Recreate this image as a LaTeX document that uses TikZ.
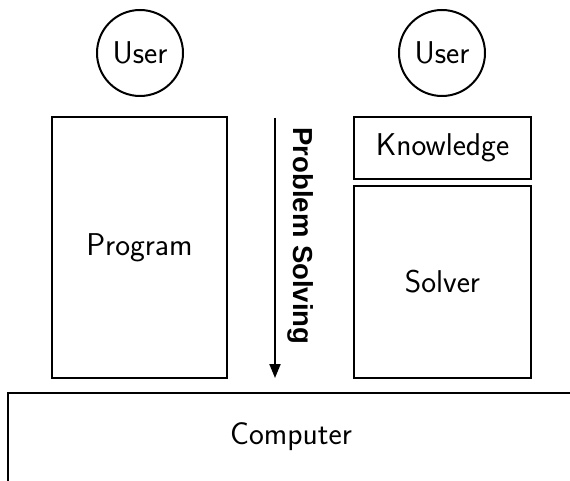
\documentclass[tikz,border=0pt]{standalone}
\usepackage{fontspec}
\newfontfamily\headfont{Liberation Sans}
\usetikzlibrary{arrows.meta}
\tikzset{
  x=1pt, y=-1pt,
  every node/.style={font=\sffamily\fontsize{31.5}{35}\selectfont, inner sep=0pt},
  userbox/.style={draw, circle, line width=2pt, minimum size=86pt},
  partbox/.style={draw, rectangle, line width=2pt},
  flow/.style={line width=2pt, -{Triangle[length=14pt,width=11pt]}},
}
\begin{document}
\begin{tikzpicture}
  \useasboundingbox (0,0) rectangle (570,481);
  \clip (0,0) rectangle (570,481);
  % users
  \node[userbox] (user1) at (140,53) {User};
  \node[userbox] (user2) at (442,53) {User};
  % conventional program
  \node[partbox, minimum width=175pt, minimum height=261pt] (program) at (139.5,247.5) {Program};
  % knowledge-based system
  \node[partbox, minimum width=177pt, minimum height=62pt] (knowledge) at (442.5,148) {Knowledge};
  \node[partbox, minimum width=177pt, minimum height=192pt] (solver) at (442.5,282) {Solver};
  % machine underneath (runs past the page edges)
  \node[partbox, minimum width=640pt, minimum height=200pt] (computer) at (328,493) {};
  \node (computertext) at (291,437) {Computer};
  % direction of problem solving
  \coordinate (flowtop) at (275,118);
  \coordinate (flowbot) at (275,378);
  \draw[flow] (flowtop) -- (flowbot);
  \node[font=\headfont\bfseries\fontsize{27.5}{30}\selectfont, rotate=-90] (pslabel) at (301,236) {Problem Solving};
\end{tikzpicture}
\end{document}
